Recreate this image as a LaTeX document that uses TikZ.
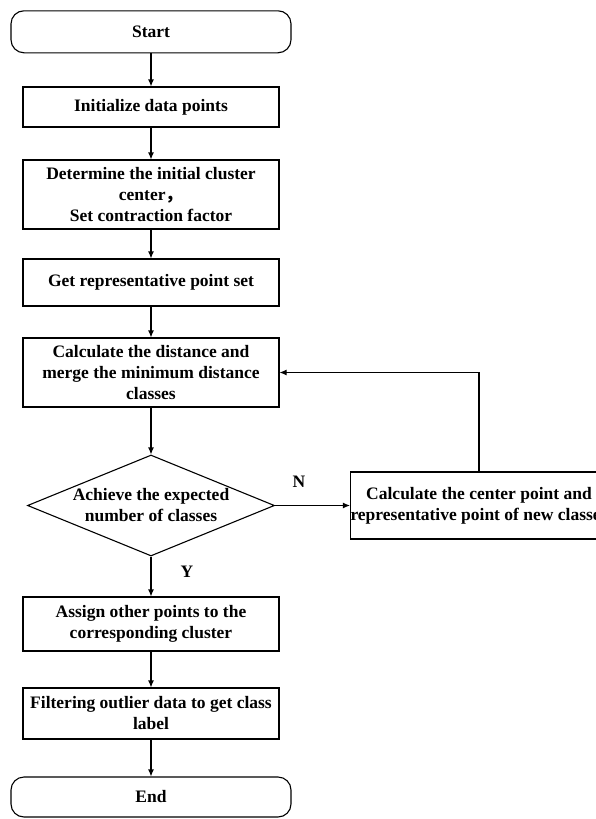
\documentclass[tikz,border=0pt]{standalone}
\usepackage{fontspec}
\setmainfont{Liberation Serif}
\newfontfamily\cjkfont{Noto Sans CJK SC}
\usetikzlibrary{shapes.geometric,arrows.meta}

\begin{document}
\begin{tikzpicture}[
	x=1pt, y=-1pt,
	>={Latex[length=7pt,width=6pt]},
	every node/.style={
		font=\fontsize{17.5}{21}\selectfont\bfseries
	},
	terminal/.style={
		rectangle,
		draw=black,
		line width=1.1pt,
		align=center,
		rounded corners=13pt,
		minimum height=42pt,
		minimum width=280pt
	},
	process/.style={
		rectangle,
		draw=black,
		line width=1.1pt,
		align=center,
		inner sep=0pt,
		minimum width=256pt
	},
	decision/.style={
		diamond,
		draw=black,
		line width=1.1pt,
		align=center,
		aspect=2.45,
		inner sep=-12pt,
		minimum width=247pt,
		minimum height=101pt
	},
	link/.style={
		->,
		line width=1.1pt
	},
]

\useasboundingbox (0,0) rectangle (596,819);

%% Nodes %%
\node[terminal] (start) at (151,31.8) {Start};
\node[process, minimum height=40pt] (init) at (151,107) {Initialize data points};
\node[process, minimum height=69pt] (center) at (151,194.5) {Determine the initial cluster\\ center{\cjkfont ，}\\ Set contraction factor};
\node[process, minimum height=47pt] (repset) at (151,282.5) {Get representative point set};
\node[process, minimum height=69pt] (merge) at (151,372.5) {Calculate the distance and\\ merge the minimum distance\\ classes};
\node[decision] (check) at (151,505.5) {Achieve the expected\\ number of classes};
\node[process, minimum width=254pt, minimum height=67pt] (update) at (479,505.5) {Calculate the center point and\\ representative point of new classes};
\node[process, minimum height=54pt] (assign) at (151,624) {Assign other points to the\\ corresponding cluster};
\node[process, minimum height=51pt] (filter) at (151,713.5) {Filtering outlier data to get class\\ label};
\node[terminal, minimum height=40pt] (end) at (151,797) {End};

% branch labels %
\node (no) at (299,482) {N};
\node (yes) at (187,572) {Y};

%% Connection arrows %%
\draw[link] (start) -- (init);
\draw[link] (init) -- (center);
\draw[link] (center) -- (repset);
\draw[link] (repset) -- (merge);
\draw[link] (merge) -- (check);
\draw[link] (check) -- (update);
\draw[link] (check) -- (assign);
\draw[link] (assign) -- (filter);
\draw[link] (filter) -- (end);

% loop back %
\draw[link] (update.north) |- (merge.east);

\end{tikzpicture}
\end{document}
